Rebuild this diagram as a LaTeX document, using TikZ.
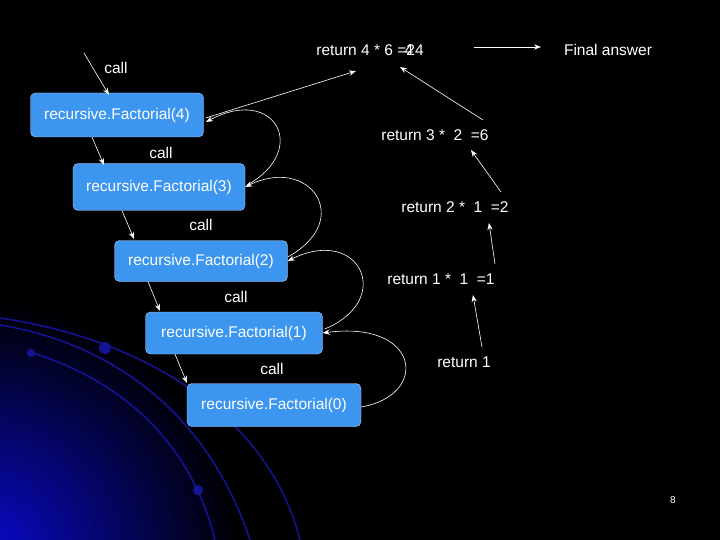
\documentclass[tikz,border=0pt]{standalone}
\usepackage{fontspec}
\setmainfont{Liberation Sans}
\usetikzlibrary{arrows.meta}
\definecolor{boxblue}{RGB}{60,150,240}
\definecolor{boxedge}{RGB}{190,210,250}
\definecolor{decoblue}{RGB}{20,20,150}
\definecolor{deepblue}{RGB}{10,10,210}
\begin{document}
\begin{tikzpicture}[x=1pt,y=-1pt,
 fbox/.style={draw=boxedge,fill=boxblue,rounded corners=5pt,text=white,font=\fontsize{15.5}{17}\selectfont,minimum height=44pt,inner xsep=2pt},
 lbl/.style={text=white,font=\fontsize{15.5}{17}\selectfont},
 arr/.style={white,semithick,-{Stealth[length=7pt]}},
 deco/.style={draw=decoblue,line width=1.5pt}]
\fill[black] (0,0) rectangle (720,540);
\begin{scope}
\clip (0,0) rectangle (720,540);
\shade[inner color=deepblue,outer color=black] (-20,560) circle (260);
\end{scope}
\useasboundingbox (0,0) rectangle (720,540);
\draw[deco] (0,318) .. controls (150,340) and (270,420) .. (300,540);
\draw[deco] (0,325) .. controls (120,345) and (210,420) .. (250,540);
\draw[deco] (30,352) .. controls (120,380) and (190,440) .. (215,540);
\fill[decoblue] (105,348) circle (6);
\fill[decoblue] (31,353) circle (4);
\fill[decoblue] (198,490) circle (5);
\node[fbox,minimum width=173pt] (r4) at (117,115) {recursive.Factorial(4)};
\node[fbox,minimum width=172pt,minimum height=47pt] (r3) at (159,187) {recursive.Factorial(3)};
\node[fbox,minimum width=173pt,minimum height=41pt] (r2) at (201,261) {recursive.Factorial(2)};
\node[fbox,minimum width=177pt,minimum height=42pt] (r1) at (234,333) {recursive.Factorial(1)};
\node[fbox,minimum width=174pt,minimum height=43pt] (r0) at (274,405) {recursive.Factorial(0)};
\node[lbl] (c4) at (116,68) {call};
\node[lbl] (c3) at (161,153) {call};
\node[lbl] (c2) at (201,225) {call};
\node[lbl] (c1) at (236,297) {call};
\node[lbl] (c0) at (272,369) {call};
\coordinate (s4) at (84,53);
\draw[arr] (s4) -- (109,95);
\draw[arr] (r4.south)+(-25,0) -- (104,165);
\draw[arr] (r3.south)+(-37,0) -- (134,239);
\draw[arr] (r2.south)+(-53,0) -- (160,311);
\draw[arr] (r1.south)+(-59,0) -- (187,383);
\draw[arr] (r0.east) ++(0,2) .. controls (430,395) and (420,320) .. (r1.east);
\draw[arr] (r1.east) ++(2,-4) .. controls (395,300) and (360,225) .. (r2.east);
\draw[arr] (r2.east) ++(0,-4) .. controls (355,220) and (310,155) .. (r3.east);
\draw[arr] (r3.east) ++(2,-2) .. controls (310,150) and (275,85) .. (206,122);
\node[lbl] (t4) at (370,50) {return 4 * 6 =24};
\node[lbl] at (409,50) {4};
\node[lbl] (fa) at (608,50) {Final answer};
\node[lbl] (t3) at (435,135) {return 3 *\ \ 2\ \ =6};
\node[lbl] (t2) at (455,207) {return 2 *\ \ 1\ \ =2};
\node[lbl] (t1) at (441,279) {return 1 *\ \ 1\ \ =1};
\node[lbl] (t0) at (464,362) {return 1};
\draw[arr] (r4.east) ++(2,3) -- (356,71);
\draw[arr] (474,47) -- (541,47);
\draw[arr] (483,120) -- (400,67);
\draw[arr] (501,192) -- (471,150);
\draw[arr] (495,264) -- (489,223);
\draw[arr] (482,347) -- (473,295);
\node[text=white,font=\fontsize{10}{11}\selectfont] (pg) at (673,500) {8};
\end{tikzpicture}
\end{document}
